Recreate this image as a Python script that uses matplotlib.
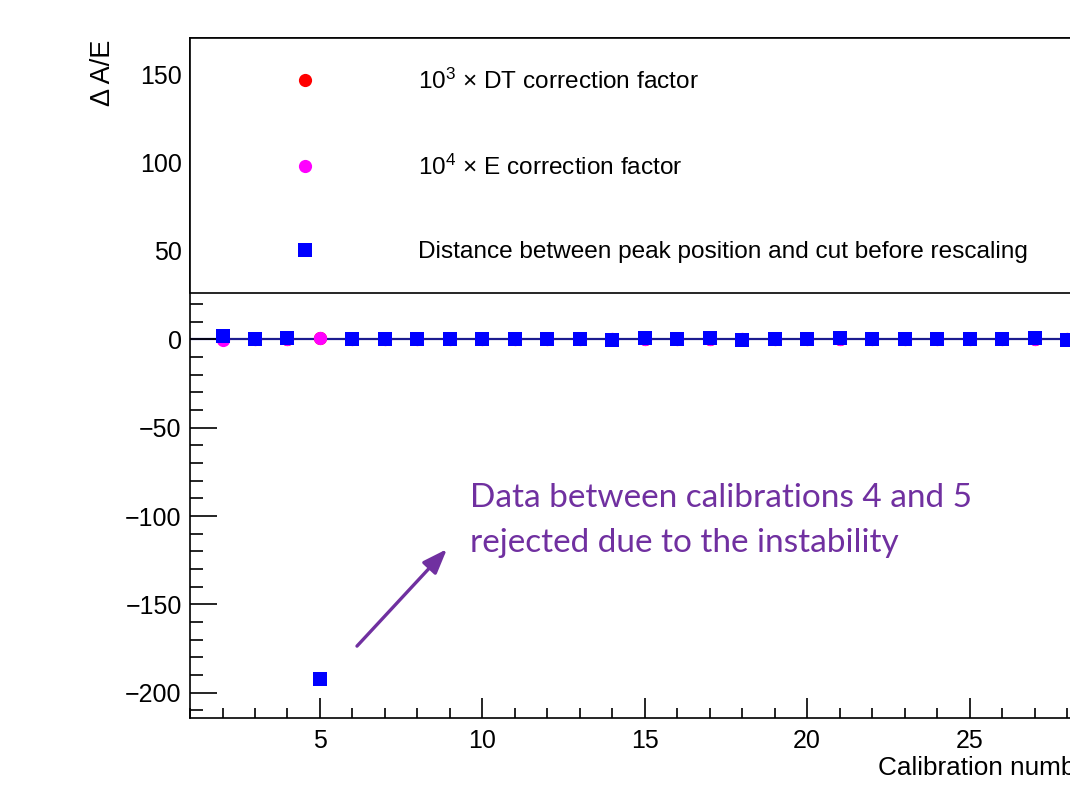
import matplotlib
matplotlib.use('Agg')
import matplotlib.pyplot as plt
from matplotlib.ticker import MultipleLocator
from matplotlib.patches import Rectangle

plt.rcParams['font.family'] = ['Liberation Sans', 'DejaVu Sans']
plt.rcParams['mathtext.fontset'] = 'custom'
plt.rcParams['mathtext.rm'] = 'Liberation Sans'
plt.rcParams['mathtext.it'] = 'Liberation Sans:italic'

# data
calib = [2, 3, 4, 5, 6, 7, 8, 9, 10, 11, 12, 13, 14, 15,
         16, 17, 18, 19, 20, 21, 22, 23, 24, 25, 26, 27, 28]
dt_corr = [0.0, 0.0, 0.0, 0.5, 0.0, 0.0, 0.0, 0.0, 0.0, 0.0, 0.0, 0.0, 0.0, 0.0,
           0.0, 0.0, 0.0, 0.0, 0.0, 0.0, 0.0, 0.0, 0.0, 0.0, 0.0, 0.0, 0.0]
e_corr = [-0.4, 0.0, 0.0, 0.6, 0.0, 0.0, 0.0, 0.0, 0.0, 0.0, 0.0, 0.0, 0.0, 0.0,
          0.0, 0.0, 0.0, 0.0, 0.0, 0.0, 0.0, 0.0, 0.0, 0.0, 0.0, 0.0, 0.0]
peak_dist = [1.7, 0.0, 0.8, -192.0, 0.0, 0.0, 0.0, 0.0, 0.0, 0.0, 0.0, 0.0, -0.5, 0.6,
             0.0, 0.6, -0.5, 0.0, 0.0, 0.6, 0.0, 0.0, 0.0, 0.0, 0.0, 0.6, -0.5]

labels = ['10$^{3}$ × DT correction factor',
          '10$^{4}$ × E correction factor',
          'Distance between peak position and cut before rescaling']

purple = '#7030A0'

fig = plt.figure(figsize=(10.7, 7.88), dpi=100)
ax = fig.add_axes([0.1776, 0.0888, 0.9107, 0.8629])

ax.axhline(0, color='#1c1c8f', lw=1.6, zorder=1)
l1, = ax.plot(calib, dt_corr, 'o', color='red', ms=9.5, mew=0, zorder=3, label=labels[0])
l2, = ax.plot(calib, e_corr, 'o', color='magenta', ms=9.5, mew=0, zorder=3, label=labels[1])
l3, = ax.plot(calib, peak_dist, 's', color='blue', ms=10, mew=0, zorder=3, label=labels[2])

ax.set_xlim(1, 31)
ax.set_ylim(-214.3, 170.5)
ax.xaxis.set_major_locator(MultipleLocator(5))
ax.xaxis.set_minor_locator(MultipleLocator(1))
ax.yaxis.set_major_locator(MultipleLocator(50))
ax.yaxis.set_minor_locator(MultipleLocator(10))
ax.tick_params(which='both', direction='in', top=False, right=False,
               labelsize=18, width=1.2)
ax.tick_params(axis='x', which='major', length=14.4, pad=8)
ax.tick_params(axis='x', which='minor', length=7.2)
ax.tick_params(axis='y', which='major', length=19.4, pad=6)
ax.tick_params(axis='y', which='minor', length=9.4)
for s in ax.spines.values():
    s.set_linewidth(1.2)

ax.set_xlabel('Calibration number', fontsize=18.8)
ax.xaxis.label.set(ha='left', va='top')
ax.xaxis.set_label_coords(0.706, -0.056)
ax.set_ylabel('Δ A/E', fontsize=19.5)
ax.yaxis.label.set(rotation_mode='default', ha='center', va='top')
ax.yaxis.set_label_coords(-0.089, 0.997)

# legend box over the upper part of the frame
box = Rectangle((0, 0.625), 1, 0.375, transform=ax.transAxes, facecolor='white',
                edgecolor='black', lw=1.2, zorder=4, clip_on=False)
ax.add_patch(box)
leg = ax.legend(handles=[l1, l2, l3], loc='center left', bbox_to_anchor=(0.0934, 0.812),
                frameon=False, fontsize=17.6, borderpad=0, borderaxespad=0,
                handlelength=2, handletextpad=3.6, labelspacing=2.5, numpoints=1)
leg.set_zorder(5)

ax.text(0.2874, 0.345, 'Data between calibrations 4 and 5\nrejected due to the instability',
        transform=ax.transAxes, color=purple, fontsize=24, family='Lato',
        ha='left', va='top', linespacing=1.6)
ax.annotate('', xy=(8.91, -118.7), xytext=(6.14, -173.6),
            arrowprops=dict(arrowstyle='-|>,head_length=0.75,head_width=0.28',
                            color=purple, lw=2.4, mutation_scale=20,
                            shrinkA=0, shrinkB=0))

fig.savefig('out.png', dpi=100)
